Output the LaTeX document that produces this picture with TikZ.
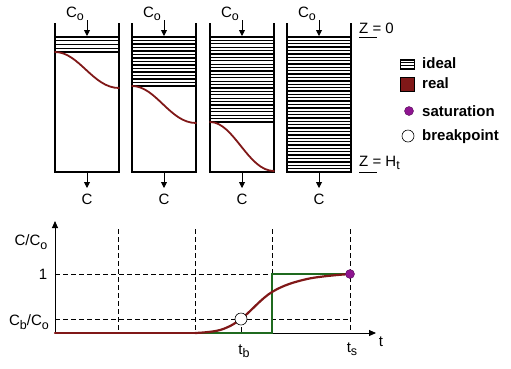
\documentclass[tikz,border=0pt]{standalone}
\usepackage{fontspec}
\setmainfont{Liberation Sans}
\usetikzlibrary{arrows.meta}
\definecolor{realred}{HTML}{801818}
\definecolor{idealgreen}{HTML}{1F6A1F}
\definecolor{satpurple}{HTML}{8E1490}
\newcommand\lowsub[1]{\raisebox{-0.45ex}{\fontsize{12.5}{13}\selectfont #1}}
\begin{document}
\begin{tikzpicture}[
  x=1pt,y=-1pt,
  wall/.style={line width=1.7pt},
  hatch/.style={line width=1.3pt},
  feed/.style={-{Triangle[length=6pt,width=6pt]},line width=0.9pt},
  front/.style={draw=realred,line width=1.8pt,line cap=round},
  guide/.style={dash pattern=on 5pt off 3pt,line width=0.6pt},
  lbl/.style={font=\fontsize{15}{17}\selectfont,inner sep=0pt},
  key/.style={font=\bfseries\fontsize{15}{17}\selectfont,anchor=west,inner sep=0pt}
]
\useasboundingbox (0,0) rectangle (511,368);
% columns
\foreach \x/\lev/\n/\bot/\name in {55/52/4/88/a,132/86/14/123/b,210/122/25/171/c,287/172/40/0/d}{
  \foreach \i in {0,...,\n}
    \draw[hatch] (\x,{37+\i*(\lev-37)/\n}) -- ++(64,0);
  \draw[wall] (\x,23) -- (\x,172) -- (\x+64,172) -- (\x+64,23);
  \ifnum\bot>0
    \draw[front] (\x,\lev) .. controls (\x+24,\lev) and (\x+38,\bot) .. (\x+64,\bot);
  \fi
  \node[lbl,anchor=east] (feed\name) at (\x+29,14) {C\lowsub{o}};
  \coordinate (in\name) at (\x+32,20);
  \draw[feed] (in\name) -- ++(0,16);
  \coordinate (out\name) at (\x+32,173);
  \draw[feed] (out\name) -- ++(0,15);
  \node[lbl] (exit\name) at (\x+32,199) {C};
}
% levels
\node[lbl,anchor=south west] (ztop) at (359,34) {Z = 0};
\draw[line width=0.8pt] (359,37) -- (377,37);
\node[lbl,anchor=base west] (zbot) at (359,166) {Z = H\lowsub{t}};
\draw[line width=0.8pt] (359,172) -- (377,172);
% legend
\foreach \i in {0,...,3}
  \draw[line width=1.1pt] (400,{60+\i*2.8}) -- (414,{60+\i*2.8});
\draw[line width=1pt] (400,59.5) rectangle (414,69);
\node[key] (kideal) at (422,63) {ideal};
\draw[fill=realred,line width=0.6pt] (400,77) rectangle (414,91);
\node[key] (kreal) at (422,83) {real};
\node[circle,fill=satpurple,draw=satpurple!60!black,inner sep=0pt,minimum size=9pt] (ksat) at (409,111) {};
\node[key] (ksattext) at (422,111) {saturation};
\node[circle,fill=white,draw=black,line width=0.6pt,inner sep=0pt,minimum size=12pt] (kbrk) at (408,136) {};
\node[key] (kbrktext) at (422,137) {breakpoint};
% breakthrough curve
\coordinate (o) at (55,333);
\coordinate (ytip) at (55,221);
\coordinate (xtip) at (376,333);
\foreach \tx in {118,195,272,350}
  \draw[guide] (\tx,229) -- (\tx,333);
\draw[guide] (55,274) -- (350,274);
\draw[guide] (55,319) -- (350,319);
\draw[guide] (241,319) -- (241,333);
\draw[-{Triangle[length=7pt,width=6pt]},line width=0.9pt] (o) -- (ytip);
\draw[-{Triangle[length=7pt,width=6pt]},line width=0.9pt] (o) -- (xtip);
\draw[idealgreen,line width=2.2pt] (195,333) -- (272,333) -- (272,274) -- (350,274);
\draw[front,line width=2.2pt] (o) -- (195,333);
\draw[front,line width=2.2pt] plot[smooth,tension=0.6] coordinates {(195,333) (220,330) (241,319) (272,292) (307,279) (350,274)};
\node[circle,fill=white,draw=black,line width=0.6pt,inner sep=0pt,minimum size=12pt] (brk) at (241,319) {};
\node[circle,fill=satpurple,draw=satpurple!60!black,inner sep=0pt,minimum size=9pt] (sat) at (350,274) {};
\node[lbl] (ylabel) at (31,242) {C/C\lowsub{o}};
\node[lbl] (yone) at (43,274) {1};
\node[lbl] (ycb) at (29,322) {C\lowsub{b}/C\lowsub{o}};
\node[lbl] (tb) at (244,351) {t\lowsub{b}};
\node[lbl] (ts) at (352,349) {t\lowsub{s}};
\node[lbl] (tlabel) at (381,342) {t};
\end{tikzpicture}
\end{document}
